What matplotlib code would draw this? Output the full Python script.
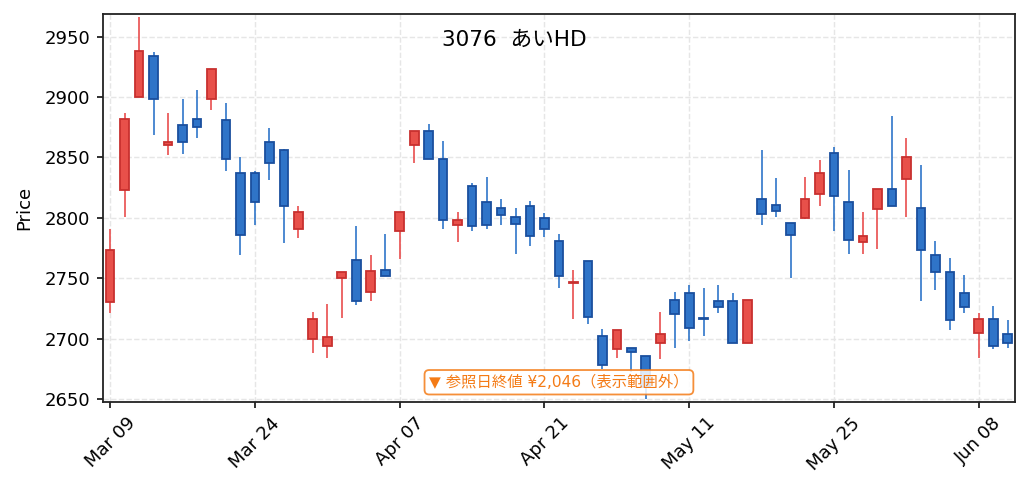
import matplotlib
matplotlib.use("Agg")
import matplotlib.pyplot as plt
import numpy as np
import pandas as pd

# latin glyphs from DejaVu, japanese falls back to Noto CJK
plt.rcParams['font.family'] = ['DejaVu Sans', 'Noto Sans CJK JP']

# trading days (TSE holidays in range skipped)
holidays = ['2020-03-20', '2020-04-29', '2020-05-04', '2020-05-05', '2020-05-06']
dates = pd.bdate_range('2020-03-09', '2020-06-10', freq='C', holidays=holidays)

opens = [2730, 2823, 2900, 2934, 2860, 2877, 2882, 2898, 2881, 2837,
         2837, 2863, 2856, 2791, 2700, 2694, 2750, 2765, 2739, 2757,
         2789, 2860, 2872, 2849, 2794, 2826, 2813, 2808, 2801, 2810,
         2800, 2781, 2746, 2764, 2702, 2691, 2692, 2686, 2696, 2732,
         2738, 2717, 2731, 2731, 2696, 2816, 2811, 2796, 2800, 2820,
         2854, 2813, 2780, 2807, 2824, 2832, 2808, 2769, 2755, 2738,
         2705, 2716, 2704]
highs = [2791, 2887, 2966, 2937, 2887, 2898, 2906, 2923, 2895, 2850,
         2839, 2874, 2857, 2810, 2722, 2729, 2755, 2793, 2769, 2787,
         2805, 2872, 2878, 2864, 2805, 2829, 2834, 2816, 2808, 2814,
         2804, 2787, 2757, 2764, 2708, 2707, 2692, 2686, 2722, 2739,
         2744, 2742, 2744, 2738, 2732, 2856, 2833, 2796, 2834, 2848,
         2859, 2840, 2805, 2824, 2884, 2866, 2844, 2781, 2767, 2753,
         2721, 2727, 2715]
lows = [2721, 2801, 2900, 2869, 2852, 2853, 2866, 2889, 2839, 2769,
        2794, 2831, 2779, 2783, 2688, 2684, 2717, 2728, 2731, 2752,
        2766, 2845, 2849, 2791, 2780, 2789, 2791, 2794, 2770, 2777,
        2784, 2742, 2716, 2712, 2675, 2684, 2672, 2650, 2683, 2692,
        2698, 2702, 2721, 2696, 2696, 2794, 2801, 2750, 2799, 2810,
        2789, 2770, 2770, 2774, 2810, 2801, 2731, 2740, 2707, 2721,
        2684, 2691, 2692]
closes = [2773, 2882, 2938, 2898, 2863, 2863, 2875, 2923, 2849, 2786,
          2813, 2845, 2810, 2805, 2716, 2701, 2755, 2731, 2756, 2752,
          2805, 2872, 2849, 2798, 2798, 2793, 2794, 2802, 2795, 2785,
          2791, 2752, 2747, 2718, 2678, 2707, 2689, 2660, 2704, 2720,
          2709, 2716, 2726, 2696, 2732, 2803, 2806, 2786, 2816, 2837,
          2818, 2782, 2785, 2824, 2810, 2850, 2773, 2755, 2715, 2726,
          2716, 2694, 2696]

title = '3076  あいHD'
note = '▼ 参照日終値 ¥2,046（表示範囲外）'

o = np.array(opens)
h = np.array(highs)
l = np.array(lows)
c = np.array(closes)
x = np.arange(len(o))
up = c >= o

fig = plt.figure(figsize=(1029 / 130, 491 / 130), dpi=130)
ax = fig.add_axes([0.100, 0.182, 0.8864, 0.7895])

# wicks
ax.vlines(x[up], l[up], h[up], color='#e84a4a', linewidth=0.9, zorder=2)
ax.vlines(x[~up], l[~up], h[~up], color='#2a72c8', linewidth=0.9, zorder=2)

# bodies
body_lo = np.minimum(o, c)
body_h = np.maximum(np.abs(c - o), 0.8)
ax.bar(x[up], body_h[up], bottom=body_lo[up], width=0.6,
       color='#e8504a', edgecolor='#c8302f', linewidth=1.0, zorder=3)
ax.bar(x[~up], body_h[~up], bottom=body_lo[~up], width=0.6,
       color='#2f74c8', edgecolor='#1a4f9e', linewidth=1.0, zorder=3)

ax.set_xlim(-0.5, len(o) - 0.5)
ax.set_ylim(2647.8, 2968.8)
ax.set_yticks(np.arange(2650, 2951, 50))
ticks = x[::10]
ax.set_xticks(ticks)
ax.set_xticklabels([dates[i].strftime('%b %d') for i in ticks], rotation=45)
ax.set_ylabel('Price', fontsize=10, labelpad=6)

ax.grid(True, linestyle='--', color='#e6e6e6', linewidth=0.8)
ax.set_axisbelow(True)
for s in ax.spines.values():
    s.set_linewidth(1.0)
    s.set_color('#222222')
ax.tick_params(width=1.0, length=3.5, color='#222222', labelsize=10)

fig.text(0.5, 0.918, title, ha='center', va='center', fontsize=12)

ax.text(0.5, 0.05, note, transform=ax.transAxes, ha='center', va='center',
        fontsize=8.5, color='#f47b16', zorder=5,
        bbox=dict(boxstyle='round,pad=0.3', facecolor='white', alpha=0.85,
                  edgecolor='#f47b16', linewidth=1.0))

fig.savefig('out.png', dpi=130)
